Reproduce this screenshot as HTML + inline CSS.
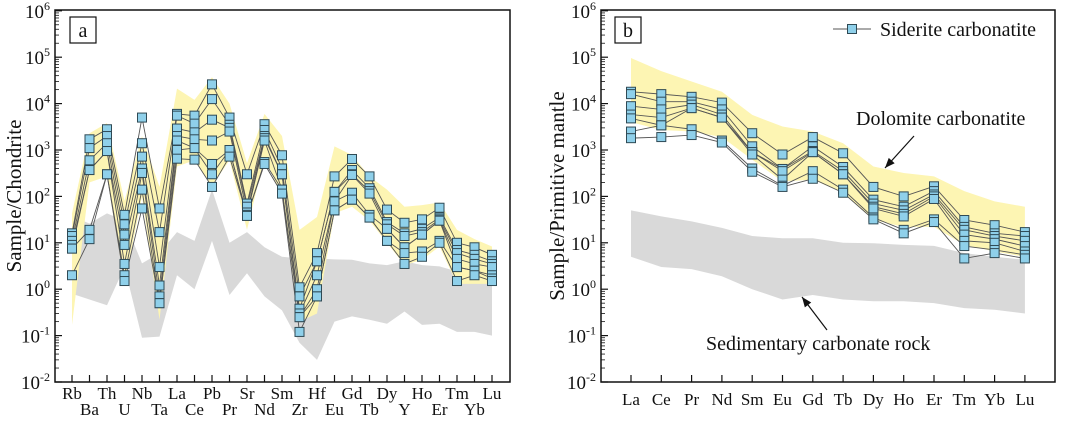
<!DOCTYPE html>
<html><head><meta charset="utf-8"><style>
body{margin:0;background:#fff;width:1065px;height:416px;overflow:hidden}
svg text{font-family:"Liberation Serif",serif;fill:#111}
</style></head><body>
<svg id="c" width="1065" height="416"></svg>
<script>
const elemsA=["Rb","Ba","Th","U","Nb","Ta","La","Ce","Pb","Pr","Sr","Nd","Sm","Zr","Hf","Eu","Gd","Tb","Dy","Y","Ho","Er","Tm","Yb","Lu"];
const aS1=[16,1700,2800,40,5000,55,6000,5500,26000,5000,300,3600,770,1.1,6,270,640,270,52,27,32,57,10,8,5.5];
const aS2=[14,1100,2000,25,1400,17,5500,3700,12500,3500,70,2700,400,0.7,4,125,370,150,28,16,20,35,7,5.5,4];
const aS3=[11,600,1400,15,720,3,2900,2400,4500,3000,60,2000,300,0.38,4,125,300,130,25,14,17,32,6,4.5,3.5];
const aS4=[9,370,950,9,400,1.2,2000,1700,1600,2500,45,1800,300,0.3,2,78,290,115,20,8,15,30,4.5,3.5,3];
const aS5=[7.5,370,950,3.5,320,0.7,1600,1100,500,1000,40,1600,140,0.25,1,78,120,40,20,8,15,30,3,2.5,2];
const aS6=[7.5,19,300,2,140,0.5,1000,1100,300,1000,38,550,140,0.25,0.7,50,85,35,11,6,6.5,11,3,2.5,1.7];
const aS7=[2,12,300,1.5,55,0.5,650,620,160,720,38,500,115,0.12,0.7,50,85,35,11,3.5,5,10,1.5,2,1.5];
const aYelHi=[43,2300,3800,80,2000,160,21000,12000,37000,10000,520,6000,2000,19,36,1200,780,270,140,60,65,74,19,12,8.3];
const aYelLo=[0.17,200,270,1.3,100,0.22,440,600,170,600,19,700,100,0.2,0.3,43,60,30,10,3.3,4.3,8.3,1.3,1.3,1.3];
const aGrayHi=[37,26,43,30,3.6,6,17,11,140,10,17,8,5,4.6,4.6,4.4,4.3,3.6,3.3,4,3.3,3.1,2.4,2.4,2.2];
const aGrayLo=[0.8,0.6,0.45,3,0.09,0.095,2,1,11,0.75,2.2,0.7,0.35,0.07,0.03,0.2,0.26,0.22,0.18,0.33,0.17,0.18,0.12,0.12,0.1];

const elemsB=["La","Ce","Pr","Nd","Sm","Eu","Gd","Tb","Dy","Ho","Er","Tm","Yb","Lu"];
const bS1=[18000,16000,14000,10500,2300,800,1900,850,160,100,165,31,24,17];
const bS2=[16000,11000,11000,7500,1200,390,1200,430,85,60,130,22,16,14];
const bS3=[8800,7500,9500,5800,900,390,950,350,70,50,110,19,14,11];
const bS4=[5800,5000,8000,5000,900,350,900,300,60,42,100,15,12,8.5];
const bS5=[4800,3400,8000,5000,800,230,900,300,55,37,88,11,10,6.5];
const bS6=[2500,3400,2800,1600,400,170,350,140,35,19,32,8.5,7,5.5];
const bS7=[1800,1900,2100,1450,340,160,240,120,32,16,28,4.6,6,4.6];
const bYelHi=[96000,50000,30000,18000,5700,3200,2500,1400,440,320,270,130,78,60];
const bYelLo=[4000,2700,2500,1900,620,210,230,120,31,22,22,9,6.5,5];
const bGrayHi=[50,37,29,21,14,12.5,12.5,10,9.8,9,8.6,6,5,4.3];
const bGrayLo=[5,3,2.7,1.9,1,0.6,0.75,0.6,0.55,0.55,0.5,0.39,0.36,0.3];

const NS="http://www.w3.org/2000/svg";
const svg=document.getElementById('c');
function mk(tag,attrs,parent){const e=document.createElementNS(NS,tag);for(const k in attrs)e.setAttribute(k,attrs[k]);(parent||svg).appendChild(e);return e;}
const Y0=382,DEC=46.4;
function yS(v){return Y0-(Math.log10(v)+2)*DEC;}

function panel(cfg){
  const g=mk('g',{});
  
  
  const xS=i=>cfg.x0+i*cfg.dx;
  const poly=(hi,lo,fill,nm)=>{
    let pts=hi.map((v,i)=>xS(i)+','+yS(v));
    for(let i=lo.length-1;i>=0;i--)pts.push(xS(i)+','+yS(lo[i]));
    const p=mk('polygon',{points:pts.join(' '),fill:fill},g);
    
    
  };
  poly(cfg.grayHi,cfg.grayLo,'#d9d9d9','sedimentary-field');
  poly(cfg.yelHi,cfg.yelLo,'#fdf5b3','dolomite-field');
  cfg.series.forEach((s,si)=>{
    const l=mk('polyline',{points:s.map((v,i)=>xS(i)+','+yS(v)).join(' '),fill:'none',stroke:'#555','stroke-width':0.9},g);
    
    
  });
  cfg.series.forEach((s,si)=>{s.forEach((v,i)=>{
    const r=mk('rect',{x:xS(i)-4.5,y:yS(v)-4.5,width:9,height:9,fill:'#8fd0ea',stroke:'#2f4a55','stroke-width':1},g);
    
    
  });});
  const f=mk('rect',{x:cfg.L,y:10,width:cfg.R-cfg.L,height:Y0-10,fill:'none',stroke:'#111','stroke-width':1.5},g);
  
  
  for(let d=-2;d<=6;d++){
    const y=yS(Math.pow(10,d));
    mk('line',{x1:cfg.L,x2:cfg.L+7,y1:y,y2:y,stroke:'#111','stroke-width':1.2},g);
    if(d<6)for(let m=2;m<10;m++){const ym=yS(m*Math.pow(10,d));mk('line',{x1:cfg.L,x2:cfg.L+4,y1:ym,y2:ym,stroke:'#111','stroke-width':0.8},g);}
    const t=mk('text',{x:cfg.L-5,y:y+7,'text-anchor':'end','font-size':19},g);
    
    
    t.innerHTML='10<tspan dy="-8" font-size="12">'+d+'</tspan>';
  }
  cfg.elems.forEach((e,i)=>{
    mk('line',{x1:xS(i),x2:xS(i),y1:Y0,y2:Y0-7,stroke:'#111','stroke-width':1.2},g);
    const row=cfg.twoRow?(i%2):0;
    const t=mk('text',{x:xS(i),y:cfg.twoRow?(row?415:399):405,'text-anchor':'middle','font-size':17},g);
    
    
    t.textContent=e;
  });
  const yt=mk('text',{transform:`translate(${cfg.titleX},196) rotate(-90)`,'text-anchor':'middle','font-size':21},g);
  
  
  yt.textContent=cfg.title;
  const bx=mk('rect',{x:cfg.boxX,y:17,width:26,height:26,fill:'#fff',stroke:'#111','stroke-width':1.2},g);
  
  
  const bl=mk('text',{x:cfg.boxX+13,y:37,'text-anchor':'middle','font-size':20},g);
  
  
  bl.textContent=cfg.label;
}
panel({name:'panel-a',elems:elemsA,x0:72,dx:17.5,L:55,R:510,twoRow:true,series:[aS1,aS2,aS3,aS4,aS5,aS6,aS7],yelHi:aYelHi,yelLo:aYelLo,grayHi:aGrayHi,grayLo:aGrayLo,title:'Sample/Chondrite',titleX:21,boxX:70,label:'a'});
panel({name:'panel-b',elems:elemsB,x0:631,dx:30.3,L:601,R:1055,twoRow:false,series:[bS1,bS2,bS3,bS4,bS5,bS6,bS7],yelHi:bYelHi,yelLo:bYelLo,grayHi:bGrayHi,grayLo:bGrayLo,title:'Sample/Primitive mantle',titleX:564,boxX:615,label:'b'});

const lg=mk('g',{});


mk('line',{x1:833,x2:871,y1:29,y2:29,stroke:'#555','stroke-width':1},lg);
mk('rect',{x:847.5,y:24.5,width:9,height:9,fill:'#8fd0ea',stroke:'#2f4a55'},lg);
const lt=mk('text',{x:880,y:36,'font-size':20},lg);lt.textContent='Siderite carbonatite';
const d1=mk('text',{x:856,y:125,'font-size':20});


d1.textContent='Dolomite carbonatite';
const s1=mk('text',{x:706,y:350,'font-size':20});


s1.textContent='Sedimentary carbonate rock';
function arrow(x1,y1,x2,y2,nm){
  const g=mk('g',{});
  
  
  mk('line',{x1,y1,x2,y2,stroke:'#111','stroke-width':1.2},g);
  const a=Math.atan2(y2-y1,x2-x1),L=10,W=4;
  const bx=x2-L*Math.cos(a),by=y2-L*Math.sin(a);
  mk('polygon',{points:`${x2},${y2} ${bx-W*Math.sin(a)},${by+W*Math.cos(a)} ${bx+W*Math.sin(a)},${by-W*Math.cos(a)}`,fill:'#111'},g);
}
arrow(914,136,885,168,'dolomite-arrow');
arrow(827,330,802,297,'sedimentary-arrow');
</script>
</body></html>
